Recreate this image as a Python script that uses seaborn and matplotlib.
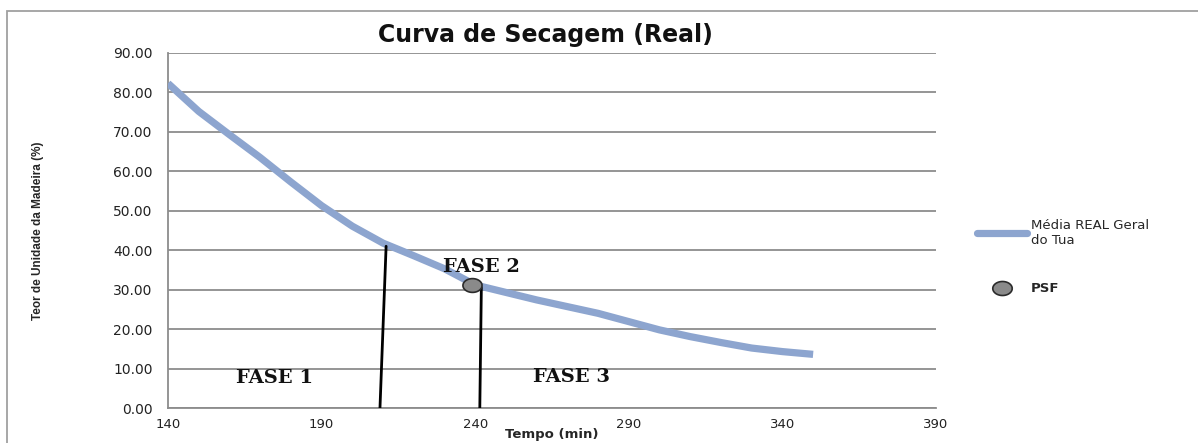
import matplotlib
matplotlib.use("Agg")
import matplotlib.pyplot as plt
import seaborn as sns
import numpy as np
import pandas as pd
from matplotlib.lines import Line2D
from matplotlib.patches import Rectangle

# ---- data ----
tempo = [140, 150, 160, 170, 180, 190, 200, 210, 220, 230, 240,
         250, 260, 270, 280, 290, 300, 310, 320, 330, 340, 350]
teor = [82.3, 75.2, 69.3, 63.5, 57.3, 51.3, 46.1, 41.8, 38.6, 35.3, 31.2,
        29.3, 27.4, 25.7, 24.0, 21.9, 19.8, 18.1, 16.6, 15.2, 14.3, 13.6]
fase1_x = [209, 211]
fase1_y = [0, 41]
fase2_x = [241.5, 242]
fase2_y = [0, 30.5]
psf_x = [239]
psf_y = [31.3]
fase_labels = ["FASE 1", "FASE 2", "FASE 3"]
fase_pos_x = [174.8, 241.9, 271.2]
fase_pos_y = [7.6, 35.7, 7.9]
x_ticks = [140, 190, 240, 290, 340, 390]
y_ticks = [0, 10, 20, 30, 40, 50, 60, 70, 80, 90]
title = "Curva de Secagem (Real)"
xlabel = "Tempo (min)"
ylabel = "Teor de Unidade da Madeira (%)"
series_label = "Média REAL Geral\ndo Tua"
psf_label = "PSF"

sns.set_theme(style="white")
plt.rcParams['font.family'] = ['DejaVu Sans']

W, H = 1198, 443
fig = plt.figure(figsize=(W / 100, H / 100), dpi=100)
ax = fig.add_axes([168 / W, 1 - 408 / H, (936 - 168) / W, (408 - 53) / H])

df = pd.DataFrame({"tempo": tempo, "teor": teor})
line_color = "#8DA5CF"
sns.lineplot(data=df, x="tempo", y="teor", ax=ax, color=line_color,
             linewidth=5.2, solid_capstyle="butt", solid_joinstyle="round",
             zorder=3)

ax.plot(fase1_x, fase1_y, color="black", linewidth=2, zorder=4)
ax.plot(fase2_x, fase2_y, color="black", linewidth=2, zorder=4)

t = np.linspace(0, 2 * np.pi, 60)
ell = np.column_stack([np.cos(t), 0.72 * np.sin(t)])
ax.scatter(psf_x, psf_y, marker=ell, s=190, color="#8a8a8a",
           edgecolor="#2b2b2b", linewidth=1.2, zorder=5)

for lab, px, py in zip(fase_labels, fase_pos_x, fase_pos_y):
    ax.text(px, py, lab, family="DejaVu Serif", fontweight="bold",
            fontsize=14, color="#111111", va="center", ha="center", zorder=6)

ax.set_xlim(140, 390)
ax.set_ylim(0, 90)
ax.set_xticks(x_ticks)
ax.set_yticks(y_ticks)
ax.set_yticklabels([f"{v:.2f}" for v in y_ticks])
ax.yaxis.grid(True, color="#8c8c8c", linewidth=1.3)
ax.xaxis.grid(False)
for s in ["top", "right"]:
    ax.spines[s].set_visible(False)
for s in ["left", "bottom"]:
    ax.spines[s].set_color("#8c8c8c")
    ax.spines[s].set_linewidth(1.3)
ax.tick_params(axis="both", which="major", direction="out", length=5,
               width=1.2, color="#8c8c8c", labelcolor="#222222")
ax.tick_params(axis="y", labelsize=10, pad=6)
ax.tick_params(axis="x", labelsize=9.5, pad=2)
ax.set_xlabel(xlabel, fontsize=9.5, fontweight="bold", labelpad=-2)
ax.set_ylabel(ylabel, family=["Liberation Sans", "DejaVu Sans"],
              fontsize=8.5, fontweight="bold", labelpad=50)
ax.set_axisbelow(True)

fig.text(545 / W, 1 - 35 / H, title, ha="center", va="center",
         fontsize=17, fontweight="bold", color="#111111")

# outer chart frame
fig.patches.append(Rectangle((7 / W, -0.05), 1.1, 1 - 11 / H + 0.05,
                             transform=fig.transFigure, fill=False,
                             edgecolor="#a0a0a0", linewidth=1.3))

handles = [Line2D([0], [0], color=line_color, linewidth=5.2),
           Line2D([0], [0], marker=ell, linestyle="none", markersize=14,
                  markerfacecolor="#8a8a8a", markeredgecolor="#2b2b2b",
                  markeredgewidth=1.2)]
leg = fig.legend(handles, [series_label, psf_label], loc="upper left",
                 bbox_to_anchor=(965 / W, 1 - 207 / H), frameon=False,
                 fontsize=9.5, handlelength=3.8, handletextpad=0.3,
                 labelspacing=2.7)
leg.get_texts()[1].set_fontweight("bold")

fig.savefig("out.png", dpi=100)
